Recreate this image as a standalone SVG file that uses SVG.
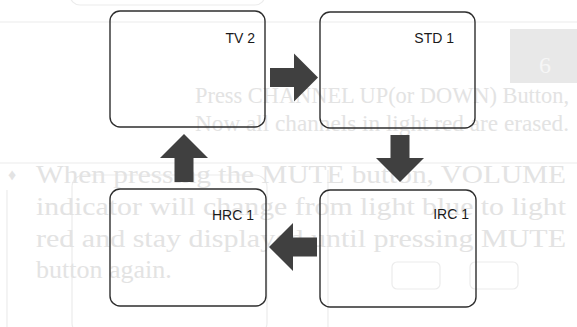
<svg xmlns="http://www.w3.org/2000/svg" width="577" height="327" viewBox="0 0 577 327">
  <style>
    .bg { fill: #ffffff; }
    .ghost { font-family: "Liberation Serif", "Times New Roman", serif; fill: #e3e3e3; }
    .ghostline { fill: none; stroke: #ececec; stroke-width: 1.2; }
    .box { fill: none; stroke: #2e2e2e; stroke-width: 1.4; }
    .label { font-family: "Liberation Sans", Arial, sans-serif; font-size: 14px; fill: #1a1a1a; text-anchor: end; }
    .arrow { fill: #404040; }
  </style>
  <rect class="bg" x="0" y="0" width="577" height="327"/>

  <g id="background">
    <rect class="ghostline" x="70" y="-20" width="195" height="25" rx="10"/>
    <line class="ghostline" x1="0" y1="22" x2="577" y2="22"/>
    <line class="ghostline" x1="0" y1="163" x2="577" y2="163"/>
    <line class="ghostline" x1="7" y1="190" x2="7" y2="327"/>
    <line class="ghostline" x1="328" y1="170" x2="328" y2="327"/>
    <rect class="ghostline" x="72" y="175" width="195" height="160" rx="12"/>
    <rect x="510" y="29" width="67" height="54" fill="#e8e8e8"/>
    <text class="ghost" x="545" y="73" font-size="24" style="fill:#f6f6f6" text-anchor="middle">6</text>
    <text class="ghost" x="195" y="103" font-size="24" textLength="374" lengthAdjust="spacingAndGlyphs">Press CHANNEL UP(or DOWN) Button,</text>
    <text class="ghost" x="195" y="131" font-size="24" textLength="374" lengthAdjust="spacingAndGlyphs">Now all channels in light red are erased.</text>
    <text class="ghost" x="8" y="180" font-size="16">♦</text>
    <text class="ghost" x="36" y="183" font-size="26" textLength="530" lengthAdjust="spacingAndGlyphs">When pressing the MUTE button, VOLUME</text>
    <text class="ghost" x="36" y="215" font-size="26" textLength="530" lengthAdjust="spacingAndGlyphs">indicator will change from light blue to light</text>
    <text class="ghost" x="36" y="247" font-size="26" textLength="530" lengthAdjust="spacingAndGlyphs">red and stay displayed until pressing MUTE</text>
    <text class="ghost" x="36" y="278" font-size="26">button again.</text>
    <rect class="ghostline" x="392" y="262" width="48" height="27" rx="5"/>
    <rect class="ghostline" x="470" y="262" width="48" height="27" rx="5"/>
  </g>

  <g id="connectors">
    <polygon class="arrow" points="270,68 294,68 294,53.5 318,77.5 294,101.5 294,87 270,87"/>
    <polygon class="arrow" points="390.5,135 409.5,135 409.5,158 424,158 400,182 376,158 390.5,158"/>
    <polygon class="arrow" points="317,237.5 293,237.5 293,223 269,247 293,271 293,256.5 317,256.5"/>
    <polygon class="arrow" points="174.5,182 193.5,182 193.5,158 208,158 184,134 160,158 174.5,158"/>
  </g>

  <g id="node-tv2">
    <rect class="box" x="110" y="11" width="155" height="116" rx="10"/>
    <text class="label" x="255" y="43">TV 2</text>
  </g>
  <g id="node-std1">
    <rect class="box" x="320" y="12" width="155" height="116" rx="10"/>
    <text class="label" x="454" y="43">STD 1</text>
  </g>
  <g id="node-irc1">
    <rect class="box" x="320" y="190" width="156" height="117" rx="10"/>
    <text class="label" x="469" y="219">IRC 1</text>
  </g>
  <g id="node-hrc1">
    <rect class="box" x="110" y="189" width="156" height="117" rx="10"/>
    <text class="label" x="254" y="220">HRC 1</text>
  </g>
</svg>
